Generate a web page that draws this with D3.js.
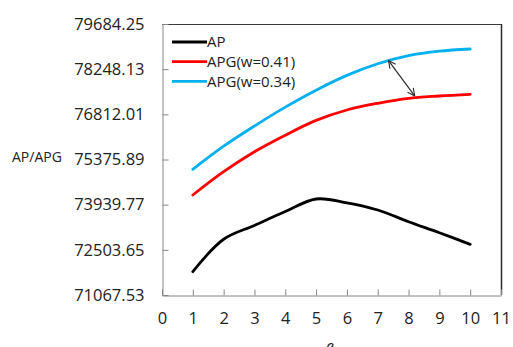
<!DOCTYPE html>
<html>
<head>
<meta charset="utf-8">
<script src="https://cdn.jsdelivr.net/npm/d3@7"></script>
<style>
  html, body { margin: 0; padding: 0; background: #fff; }
  svg { display: block; }
  text { font-family: "Open Sans", Lato, sans-serif; fill: #222; }
</style>
</head>
<body>
<svg id="chart" width="513" height="347"></svg>
<script>
// e values on the x axis
const eValues = [1, 2, 3, 4, 5, 6, 7, 8, 9, 10];
// series values
const apValues   = [71808, 72840, 73280, 73720, 74120, 74000, 73770, 73398, 73048, 72679];
const apg041     = [74247, 74988, 75624, 76150, 76620, 76950, 77163, 77322, 77395, 77449];
const apg034     = [75064, 75800, 76440, 77040, 77580, 78050, 78420, 78680, 78820, 78890];
const seriesNames = ["AP", "APG(w=0.41)", "APG(w=0.34)"];
const seriesColors = ["#000000", "#ff0000", "#00b0f0"];
// axis ticks
const yTickLabels = ["71067.53", "72503.65", "73939.77", "75375.89", "76812.01", "78248.13", "79684.25"];
const xTicks = [0, 1, 2, 3, 4, 5, 6, 7, 8, 9, 10, 11];
// arrow between the two APG curves: [e, value] pairs
const arrowFrom = [7.35, 78520];
const arrowTo = [8.2, 77400];

const svg = d3.select("#chart");
const plotLeft = 162, plotRight = 501, plotTop = 24, plotBottom = 295;
const yMin = +yTickLabels[0], yMax = +yTickLabels[yTickLabels.length - 1];

const x = d3.scaleLinear().domain([0, 11]).range([plotLeft, plotRight]);
const y = d3.scaleLinear().domain([yMin, yMax]).range([plotBottom, plotTop]);

// frame: darker top/right edges
svg.append("line").attr("x1", plotLeft).attr("x2", plotRight).attr("y1", plotTop + 0.5).attr("y2", plotTop + 0.5)
  .attr("stroke", "#3a3a3a").attr("stroke-width", 1.2);
svg.append("line").attr("x1", plotRight + 0.5).attr("x2", plotRight + 0.5).attr("y1", plotTop).attr("y2", plotBottom)
  .attr("stroke", "#2a2a2a").attr("stroke-width", 1.5);

// y axis with inward ticks
const yAxis = d3.axisLeft(y)
  .tickValues(yTickLabels.map(Number))
  .tickFormat((d, i) => yTickLabels[i])
  .tickSizeInner(-6).tickSizeOuter(0).tickPadding(18);
const gy = svg.append("g").attr("transform", `translate(${plotLeft + 0.5},0)`).call(yAxis);
gy.select(".domain").attr("stroke", "#868686");
gy.selectAll(".tick line").attr("stroke", "#868686");
gy.selectAll(".tick text").attr("font-size", 16.5).attr("font-family", "Open Sans").attr("fill", "#222");

// x axis with inward ticks
const xAxis = d3.axisBottom(x).tickValues(xTicks).tickFormat(d3.format("d"))
  .tickSizeInner(-6).tickSizeOuter(0).tickPadding(17);
const gx = svg.append("g").attr("transform", `translate(0,${plotBottom + 0.5})`).call(xAxis);
gx.select(".domain").attr("stroke", "#868686");
gx.selectAll(".tick line").attr("stroke", "#868686");
gx.selectAll(".tick text").attr("font-size", 16.5).attr("font-family", "Open Sans").attr("fill", "#222");

// axis titles
svg.append("text").attr("x", 12).attr("y", 162).attr("font-size", 14).text("AP/APG");
svg.append("text").attr("x", x(5.45)).attr("y", 352).attr("font-size", 16)
  .attr("font-style", "italic").attr("text-anchor", "middle").text("e");

// curves
const line = d3.line().x((d, i) => x(eValues[i])).y(d => y(d)).curve(d3.curveCatmullRom.alpha(0.5));
const allSeries = [apValues, apg041, apg034];
allSeries.forEach((vals, k) => {
  svg.append("path").datum(vals).attr("d", line)
    .attr("fill", "none").attr("stroke", seriesColors[k]).attr("stroke-width", 2.8)
    .attr("stroke-linejoin", "round").attr("stroke-linecap", "round");
});

// double-headed arrow
const defs = svg.append("defs");
["start", "end"].forEach(id => {
  defs.append("marker").attr("id", "arr-" + id)
    .attr("viewBox", "0 0 10 10").attr("refX", 9).attr("refY", 5)
    .attr("markerWidth", 9).attr("markerHeight", 9).attr("orient", id === "end" ? "auto" : "auto-start-reverse")
    .attr("markerUnits", "userSpaceOnUse")
    .append("path").attr("d", "M1,1 L9,5 L1,9").attr("fill", "none")
    .attr("stroke", "#333").attr("stroke-width", 1.3);
});
svg.append("line")
  .attr("x1", x(arrowFrom[0])).attr("y1", y(arrowFrom[1]))
  .attr("x2", x(arrowTo[0])).attr("y2", y(arrowTo[1]))
  .attr("stroke", "#333").attr("stroke-width", 1.3)
  .attr("marker-start", "url(#arr-start)").attr("marker-end", "url(#arr-end)");

// legend
const legend = svg.append("g").attr("transform", "translate(172,42)");
seriesNames.forEach((name, i) => {
  const g = legend.append("g").attr("transform", `translate(0,${i * 19.7})`);
  g.append("line").attr("x1", 0).attr("x2", 35).attr("y1", 0).attr("y2", 0)
    .attr("stroke", seriesColors[i]).attr("stroke-width", 2.8);
  g.append("text").attr("x", 35).attr("y", 0).attr("dy", "0.36em").attr("font-size", 15).text(name);
});
</script>
</body>
</html>
